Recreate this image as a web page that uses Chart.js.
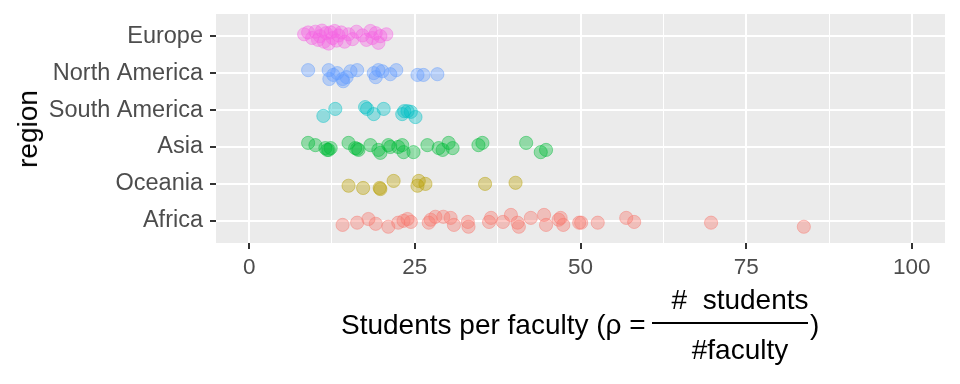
<!DOCTYPE html>
<html>
<head>
<meta charset="utf-8">
<script src="https://cdn.jsdelivr.net/npm/chart.js@4/dist/chart.umd.min.js"></script>
<style>
  body { margin: 0; background: #ffffff; }
  #wrap { position: relative; width: 960px; height: 384px; font-family: "Liberation Sans", Arial, Helvetica, sans-serif; color: #000; }
  #chart { position: absolute; left: 0; top: 0; }
  .lbl { position: absolute; white-space: pre; font-size: 28px; line-height: 1; }
</style>
</head>
<body>
<div id="wrap">
  <canvas id="chart" width="960" height="384"></canvas>
  <div class="lbl" style="left:28px; top:129px; transform: translate(-50%,-50%) rotate(-90deg);">region</div>
  <div class="lbl" style="left:341px; top:325px; transform: translateY(-50%);">Students per faculty (ρ =</div>
  <div class="lbl" style="left:740px; top:300px; transform: translate(-50%,-50%);">#  students</div>
  <div style="position:absolute; left:652px; top:322px; width:156px; height:2px; background:#000;"></div>
  <div class="lbl" style="left:740px; top:350px; transform: translate(-50%,-50%);">#faculty</div>
  <div class="lbl" style="left:810px; top:325px; transform: translateY(-50%);">)</div>
</div>
<script>
// regions, bottom to top
const regions = ['Africa', 'Oceania', 'Asia', 'South America', 'North America', 'Europe'];
const regionColors = ['#F8766D', '#B79F00', '#00BA38', '#00BFC4', '#619CFF', '#F564E3'];
const xTicks = [0, 12.5, 25, 37.5, 50, 62.5, 75, 87.5, 100];

// students per faculty, with the vertical jitter of each point
const africaRatio = [14.1, 16.3, 18.0, 19.1, 21.0, 22.5, 23.3, 23.9, 24.4, 27.1, 27.4, 28.1, 29.3, 30.4, 30.9, 33.0, 33.1, 36.2, 36.5, 38.3, 39.5, 40.5, 40.7, 42.5, 44.5, 44.8, 46.7, 47.0, 47.4, 49.8, 50.1, 52.6, 56.9, 58.1, 69.7, 83.7];
const africaJitter = [-0.11, -0.05, 0.05, -0.08, -0.16, -0.05, 0, 0.05, -0.03, -0.05, 0.03, 0.11, 0.11, 0.08, -0.11, -0.03, -0.16, -0.03, 0.08, -0.03, 0.16, -0.05, -0.16, 0.08, 0.16, -0.11, 0.03, 0.08, -0.11, -0.05, -0.05, -0.05, 0.08, -0.03, -0.05, -0.16];

const oceaniaRatio = [15.0, 17.2, 19.7, 19.8, 21.8, 25.6, 25.4, 26.6, 35.6, 40.2];
const oceaniaJitter = [-0.05, -0.11, -0.11, -0.14, 0.08, 0.08, -0.05, 0, 0, 0.03];

const asiaRatio = [8.9, 10.0, 11.5, 11.8, 12.0, 12.3, 15.0, 16.0, 16.3, 16.5, 18.3, 19.5, 19.8, 21.0, 21.3, 22.5, 23.1, 23.3, 24.8, 26.9, 28.6, 29.2, 30.1, 30.7, 34.6, 35.2, 41.8, 44.0, 44.8];
const asiaJitter = [0.11, 0.05, -0.03, -0.08, -0.08, -0.03, 0.11, -0.03, -0.05, -0.08, 0.05, -0.08, -0.16, 0.05, 0, 0, 0.05, -0.14, -0.14, 0.05, -0.03, -0.08, 0.11, -0.03, 0.05, 0.11, 0.11, -0.14, -0.08];

const southAmericaRatio = [11.2, 13.0, 17.5, 17.8, 18.8, 20.3, 23.1, 23.4, 23.9, 24.4, 25.1];
const southAmericaJitter = [-0.16, 0.03, 0.08, 0.03, -0.11, 0.03, -0.11, -0.03, -0.03, -0.05, -0.19];

const northAmericaRatio = [8.9, 12.0, 12.1, 12.7, 13.3, 14.1, 14.2, 14.7, 15.3, 16.3, 18.8, 19.1, 19.5, 20.1, 21.3, 22.2, 25.4, 26.3, 28.4];
const northAmericaJitter = [0.08, 0.08, -0.16, -0.05, 0, -0.16, -0.22, -0.11, 0.05, 0.08, 0, -0.11, 0.08, 0.05, -0.03, 0.08, -0.05, -0.05, -0.03];

const europeRatio = [8.3, 8.9, 9.5, 10.0, 10.4, 10.7, 11.0, 11.3, 11.6, 12.0, 12.3, 12.6, 12.9, 13.2, 13.5, 13.9, 14.4, 15.0, 15.6, 16.2, 17.1, 17.7, 18.3, 18.6, 19.1, 19.5, 19.8, 20.7];
const europeJitter = [0.05, 0.1, -0.05, 0.12, -0.1, 0, 0.15, -0.15, 0.08, -0.2, 0.1, -0.05, 0.14, -0.12, 0.02, 0.1, -0.15, 0.05, -0.08, 0.12, 0.02, -0.1, 0.14, -0.05, 0.08, -0.18, 0, 0.05];

const ratios = [africaRatio, oceaniaRatio, asiaRatio, southAmericaRatio, northAmericaRatio, europeRatio];
const jitters = [africaJitter, oceaniaJitter, asiaJitter, southAmericaJitter, northAmericaJitter, europeJitter];

const FONT = '"Liberation Sans", Arial, Helvetica, sans-serif';

const panelBg = {
  id: 'panelBg',
  beforeDraw(chart) {
    const { ctx, chartArea: a } = chart;
    ctx.save();
    ctx.fillStyle = '#EBEBEB';
    ctx.fillRect(a.left, a.top, a.right - a.left, a.bottom - a.top);
    ctx.restore();
  }
};

const datasets = regions.map((name, i) => ({
  label: name,
  data: ratios[i].map((v, k) => ({ x: v, y: i + 1 + jitters[i][k] })),
  backgroundColor: regionColors[i] + '61',
  borderColor: regionColors[i] + '70',
  borderWidth: 1,
  pointRadius: 6.6,
  pointHoverRadius: 6.6
}));

new Chart(document.getElementById('chart'), {
  type: 'scatter',
  data: { datasets },
  plugins: [panelBg],
  options: {
    responsive: false,
    animation: false,
    layout: { padding: { left: 0, top: 14, right: 15, bottom: 0 } },
    plugins: { legend: { display: false }, tooltip: { enabled: false } },
    scales: {
      x: {
        type: 'linear',
        min: -5,
        max: 105,
        afterBuildTicks: (s) => { s.ticks = xTicks.map(v => ({ value: v })); },
        afterFit: (s) => { s.height = 141; s.paddingLeft = 0; s.paddingRight = 0; },
        border: { display: false },
        grid: {
          color: '#FFFFFF',
          lineWidth: (c) => (c.tick && c.tick.value % 25 === 0 ? 2 : 1),
          tickColor: (c) => (c.tick && c.tick.value % 25 === 0 ? '#333333' : 'rgba(0,0,0,0)'),
          tickLength: 6,
          tickWidth: 2
        },
        ticks: {
          autoSkip: false,
          maxRotation: 0,
          padding: 5,
          color: '#4D4D4D',
          font: { family: FONT, size: 22.5 },
          callback: (v) => (v % 25 === 0 ? String(v) : '')
        }
      },
      y: {
        type: 'linear',
        min: 0.4,
        max: 6.6,
        afterBuildTicks: (s) => { s.ticks = regions.map((_, i) => ({ value: i + 1 })); },
        afterFit: (s) => { s.width = 216; s.paddingTop = 0; s.paddingBottom = 0; },
        border: { display: false },
        grid: {
          color: '#FFFFFF',
          lineWidth: 2,
          tickColor: '#333333',
          tickLength: 6,
          tickWidth: 2
        },
        ticks: {
          autoSkip: false,
          padding: 7,
          color: '#4D4D4D',
          font: { family: FONT, size: 23.5 },
          callback: (v) => regions[v - 1] || ''
        }
      }
    }
  }
});
</script>
</body>
</html>
